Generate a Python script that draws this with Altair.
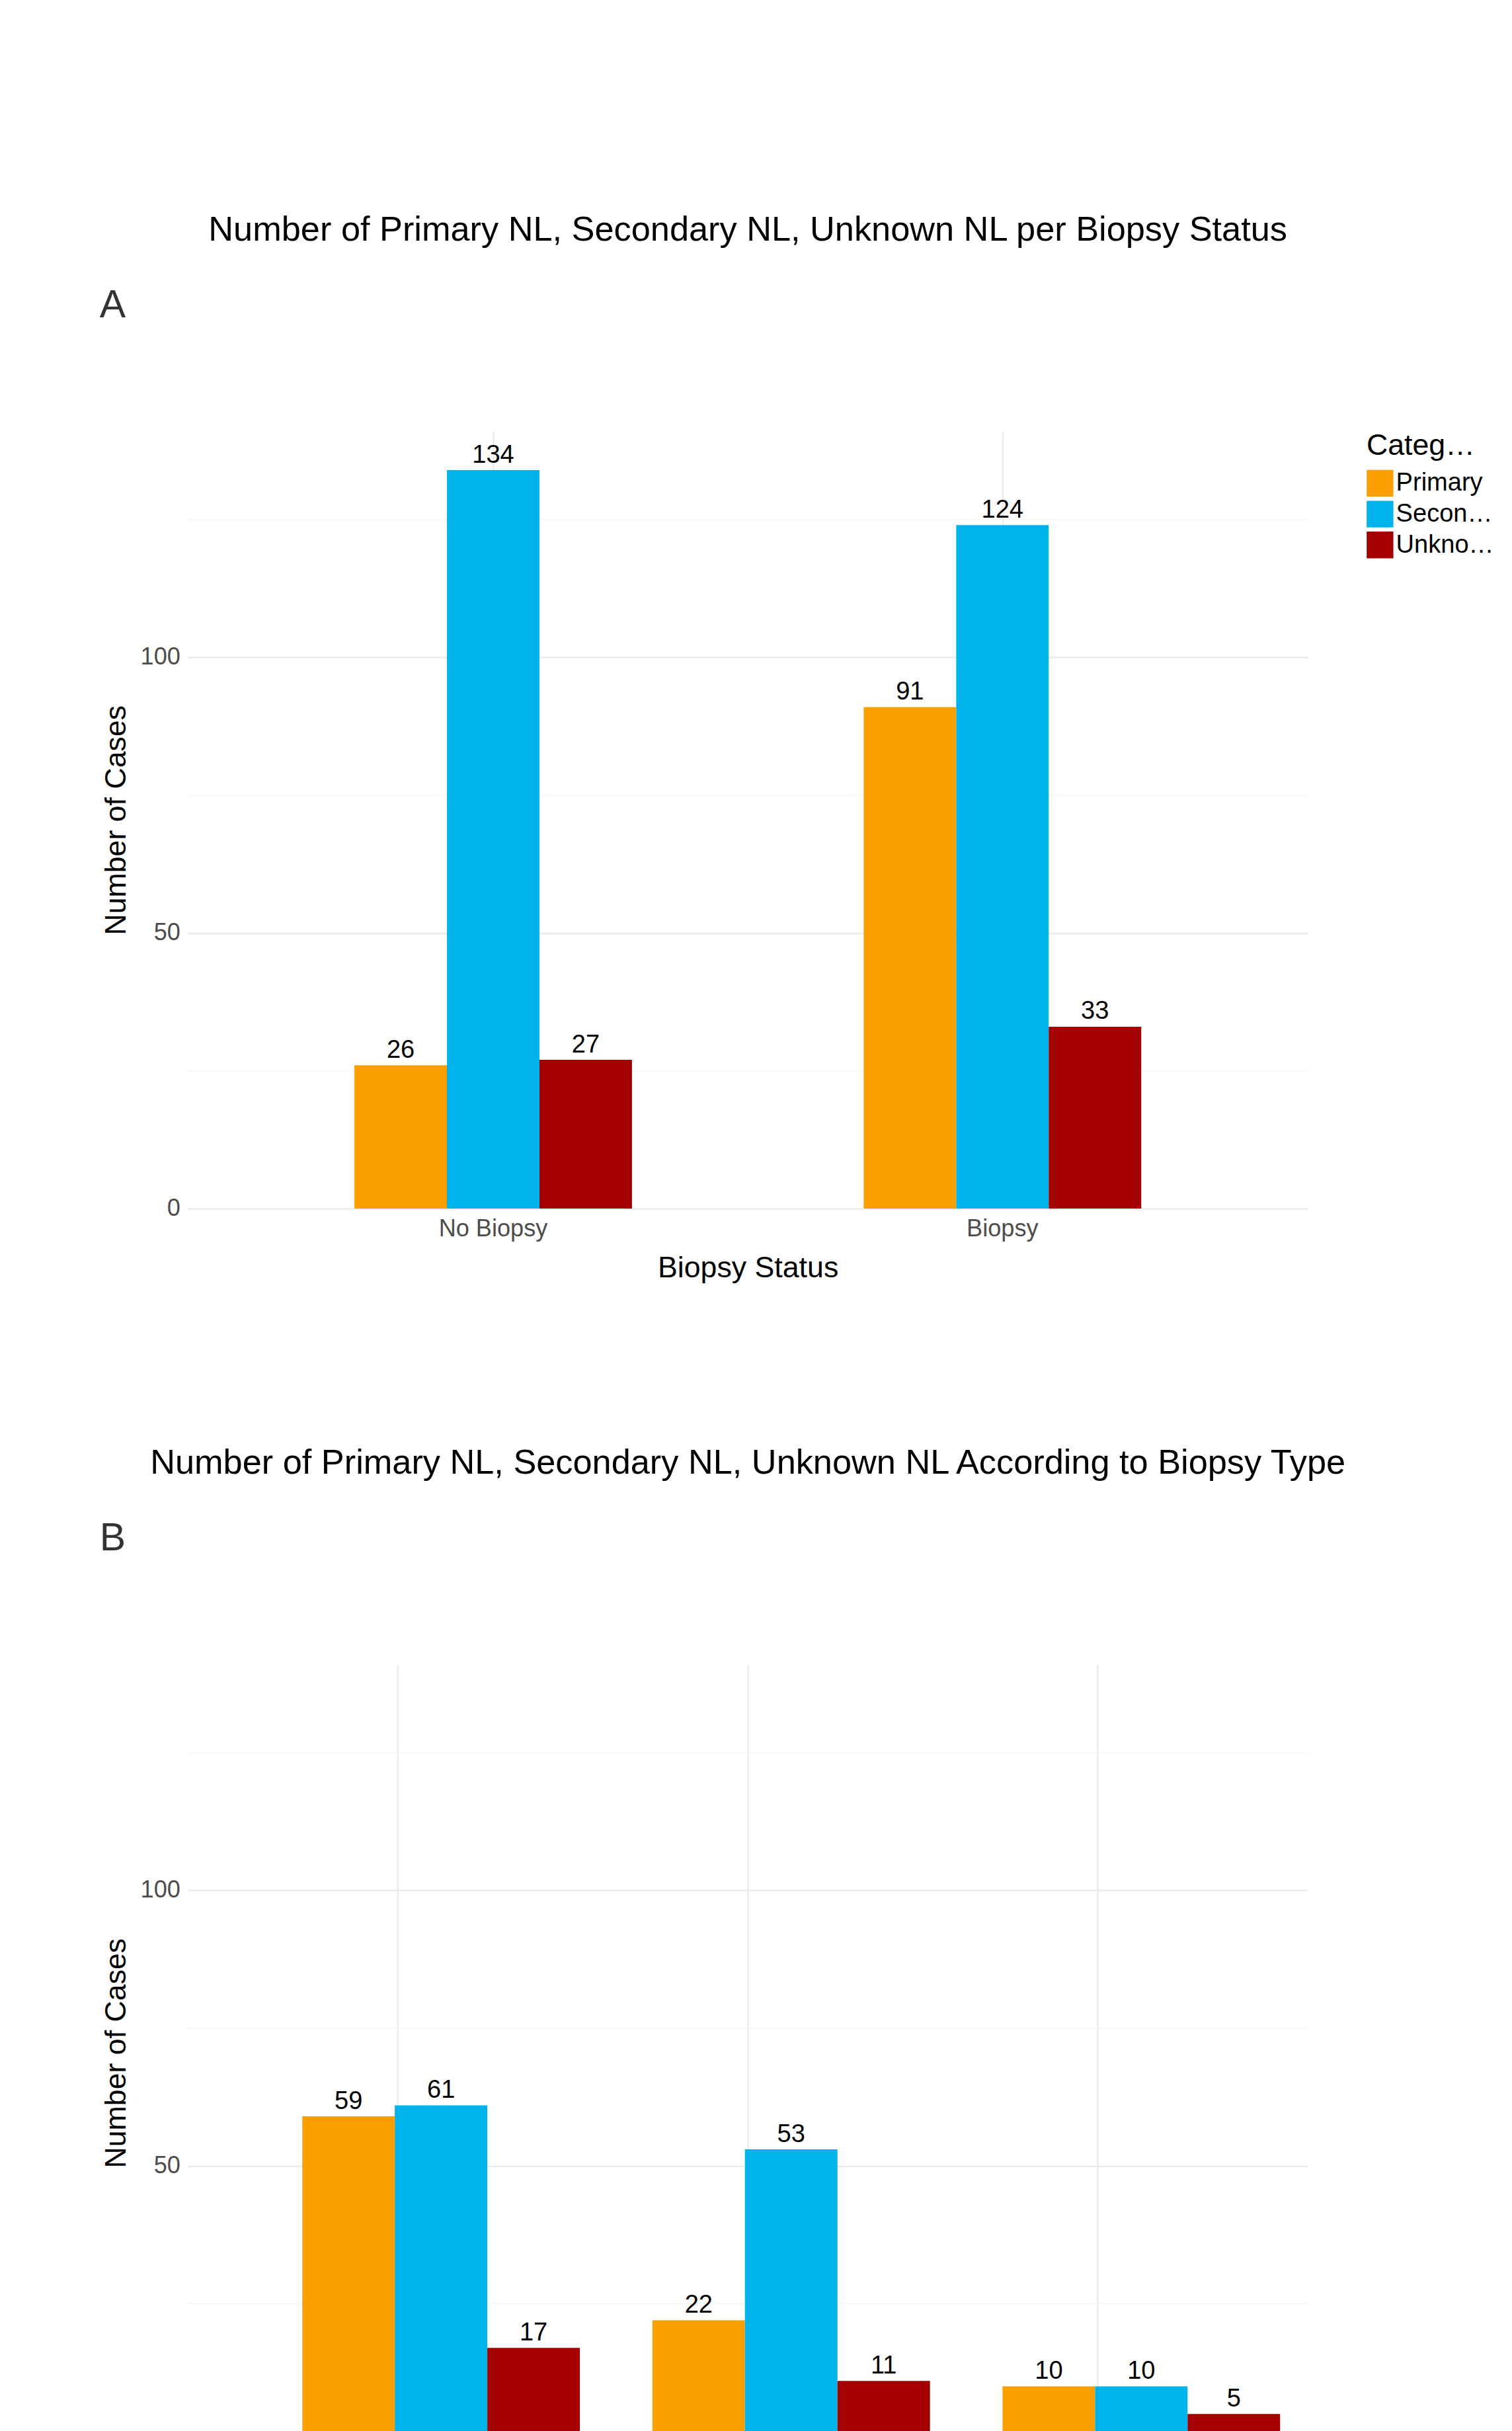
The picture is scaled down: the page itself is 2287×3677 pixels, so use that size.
import pandas as pd
import altair as alt

categories = ["Primary", "Secondary", "Unknown"]
colors = ["#F9A000", "#00B3EA", "#A50000"]

status_a = ["No Biopsy", "Biopsy"]
primary_a = [26, 91]
secondary_a = [134, 124]
unknown_a = [27, 33]

status_b = ["Nerve Biopsy", "Non\u2212Nerve Biopsy", "Nerve and Non\u2212Nerve Biopsy"]
primary_b = [59, 22, 10]
secondary_b = [61, 53, 10]
unknown_b = [17, 11, 5]

FONT = "Liberation Sans"


def make_df(status, p, s, u):
    rows = []
    for i, st in enumerate(status):
        for cat, vals in zip(categories, [p, s, u]):
            rows.append({"Status": st, "Category": cat, "Cases": vals[i]})
    return pd.DataFrame(rows)


def panel(df, status, title, letter):
    x = alt.X("Status:N", sort=status, title="Biopsy Status",
              scale=alt.Scale(paddingInner=0.455, paddingOuter=0.3275),
              axis=alt.Axis(labelAngle=0, domain=False, ticks=False, grid=True,
                            gridColor="#EBEBEB", gridWidth=2.5, bandPosition=0.5,
                            labelPadding=14, titlePadding=20))
    xo = alt.XOffset("Category:N", sort=categories,
                     scale=alt.Scale(paddingInner=0, paddingOuter=0))
    y = alt.Y("Cases:Q", title="Number of Cases",
              scale=alt.Scale(domain=[0, 141], nice=False),
              axis=alt.Axis(values=[0, 50, 100], domain=False, ticks=False,
                            gridColor="#EBEBEB", gridWidth=2.5, labelPadding=12, titlePadding=14))
    color = alt.Color("Category:N", sort=categories,
                      scale=alt.Scale(domain=categories, range=colors),
                      legend=alt.Legend(title="Category", symbolType="square", symbolSize=1800,
                                        symbolStrokeWidth=0, symbolOpacity=1, rowPadding=6,
                                        labelFontSize=40, titleFontSize=47, titleFontWeight="normal",
                                        labelFont=FONT, titleFont=FONT, orient="right", offset=30,
                                        titlePadding=14))
    minor = alt.Chart(pd.DataFrame({"v": [25, 75, 125]})).mark_rule(
        color="#F3F3F3", strokeWidth=1.5).encode(y=alt.Y("v:Q"))
    bars = alt.Chart(df).mark_bar(opacity=1).encode(x=x, xOffset=xo, y=y, color=color)
    labels = alt.Chart(df).mark_text(baseline="bottom", dy=-4, fontSize=40, font=FONT,
                                     color="black").encode(
        x=alt.X("Status:N", sort=status), xOffset=xo, y="Cases:Q", text="Cases:Q")
    lt = alt.Chart(pd.DataFrame({"t": [letter]})).mark_text(
        fontSize=62, font=FONT, color="#333333", align="left", baseline="middle").encode(
        x=alt.value(-140), y=alt.value(-200), text="t:N")
    return alt.layer(minor, bars, labels, lt).resolve_scale(y="shared").properties(
        width=1782, height=1236,
        title=alt.TitleParams(title, fontSize=55, font=FONT, fontWeight="normal",
                              anchor="middle", offset=60, color="black"))


df_a = make_df(status_a, primary_a, secondary_a, unknown_a)
df_b = make_df(status_b, primary_b, secondary_b, unknown_b)

chart = alt.vconcat(
    panel(df_a, status_a, "Number of Primary NL, Secondary NL, Unknown NL per Biopsy Status", "A"),
    panel(df_b, status_b, "Number of Primary NL, Secondary NL, Unknown NL According to Biopsy Type", "B"),
    spacing=260,
).resolve_scale(x="independent").configure_view(stroke=None).configure_axis(
    labelFont=FONT, titleFont=FONT, labelFontSize=38, titleFontSize=47,
    labelColor="#4D4D4D", titleColor="black", titleFontWeight="normal"
).properties(padding={"left": 150, "top": 230, "right": 20, "bottom": 20})

chart.save("out.html", embed_options={"renderer": "svg", "actions": False})
